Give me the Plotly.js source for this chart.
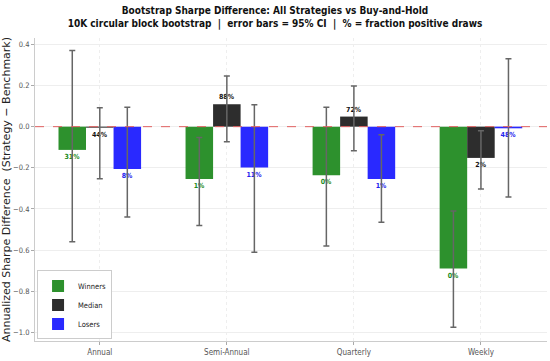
<!DOCTYPE html>
<html><head><meta charset="utf-8">
<script src="https://cdn.plot.ly/plotly-3.0.1.min.js"></script>
<style>html,body{margin:0;padding:0;background:#fff}#chart{width:550px;height:361px}</style>
</head><body><div id="chart"></div>
<script>
const categories = ["Annual", "Semi-Annual", "Quarterly", "Weekly"];

const winnersVal = [-0.113, -0.254, -0.236, -0.69];
const winnersLo  = [-0.56, -0.48, -0.58, -0.975];
const winnersHi  = [0.37, -0.053, 0.094, -0.41];
const winnersPct = ["31%", "1%", "0%", "0%"];

const medianVal = [-0.005, 0.109, 0.049, -0.152];
const medianLo  = [-0.253, -0.073, -0.117, -0.303];
const medianHi  = [0.092, 0.246, 0.198, -0.02];
const medianPct = ["44%", "88%", "72%", "2%"];

const losersVal = [-0.206, -0.199, -0.254, -0.008];
const losersLo  = [-0.439, -0.61, -0.465, -0.342];
const losersHi  = [0.094, 0.107, -0.039, 0.33];
const losersPct = ["8%", "11%", "1%", "48%"];

const NARROW = 'DejaVu Sans Condensed, DejaVu Sans';

function mk(name, vals, lo, hi, pct, color, tcolor) {
  return {
    type: 'bar', name: name, x: categories, y: vals,
    marker: {color: color},
    error_y: {type: 'data', symmetric: false,
      array: vals.map((v, i) => hi[i] - v),
      arrayminus: vals.map((v, i) => v - lo[i]),
      color: '#666666', thickness: 1.5, width: 3},
    text: pct, textposition: 'outside', cliponaxis: false, constraintext: 'none',
    textfont: {family: NARROW, size: 7, color: tcolor, weight: 'bold'},
    hoverinfo: 'skip'
  };
}

const data = [
  mk('Winners', winnersVal, winnersLo, winnersHi, winnersPct, 'rgba(34,139,34,0.95)', '#228B22'),
  mk('Median', medianVal, medianLo, medianHi, medianPct, 'rgba(34,34,34,0.95)', '#111111'),
  mk('Losers', losersVal, losersLo, losersHi, losersPct, 'rgba(30,30,255,0.95)', '#2222ee')
];

const layout = {
  width: 550, height: 361,
  margin: {l: 35, r: 3, t: 38, b: 20},
  paper_bgcolor: '#fff', plot_bgcolor: '#fff',
  barmode: 'group', bargap: 0.35, bargroupgap: 0,
  title: {text: '<b>Bootstrap Sharpe Difference: All Strategies vs Buy-and-Hold</b><br><b>10K circular block bootstrap  |  error bars = 95% CI  |  % = fraction positive draws</b>',
    font: {family: NARROW, size: 10, color: '#111'},
    x: 0.5, xanchor: 'center', y: 0.96, yanchor: 'top'},
  showlegend: true,
  legend: {x: 0.004, y: 0.005, xanchor: 'left', yanchor: 'bottom',
    bgcolor: 'rgba(255,255,255,0.9)', bordercolor: '#cccccc', borderwidth: 1,
    font: {family: NARROW, size: 7.5, color: '#222'},
    traceorder: 'normal', itemwidth: 30, tracegroupgap: 0},
  xaxis: {range: [-0.51, 3.52], showgrid: true, gridcolor: '#eeeeee', griddash: 'dot',
    showline: true, linecolor: '#cccccc', ticks: 'outside', ticklen: 3, tickcolor: '#aaaaaa',
    tickfont: {family: NARROW, size: 8, color: '#555'}, zeroline: false},
  yaxis: {range: [-1.042, 0.431], tickvals: [0.4, 0.2, 0, -0.2, -0.4, -0.6, -0.8, -1.0],
    ticktext: ['0.4', '0.2', '0.0', '\u22120.2', '\u22120.4', '\u22120.6', '\u22120.8', '\u22121.0'],
    showgrid: true, gridcolor: '#eeeeee', showline: true, linecolor: '#cccccc',
    ticks: 'outside', ticklen: 3, tickcolor: '#aaaaaa', zeroline: false,
    tickfont: {family: NARROW, size: 7.5, color: '#555'},
    title: {text: 'Annualized Sharpe Difference  (Strategy \u2212 Benchmark)', standoff: 6,
      font: {family: 'DejaVu Sans', size: 11, color: '#222'}}},
  shapes: [{type: 'line', xref: 'paper', x0: 0, x1: 1, yref: 'y', y0: 0, y1: 0,
    line: {color: '#e06060', width: 1, dash: 'dash'}, layer: 'above'}]
};

Plotly.newPlot('chart', data, layout, {displayModeBar: false, staticPlot: true});
</script></body></html>
